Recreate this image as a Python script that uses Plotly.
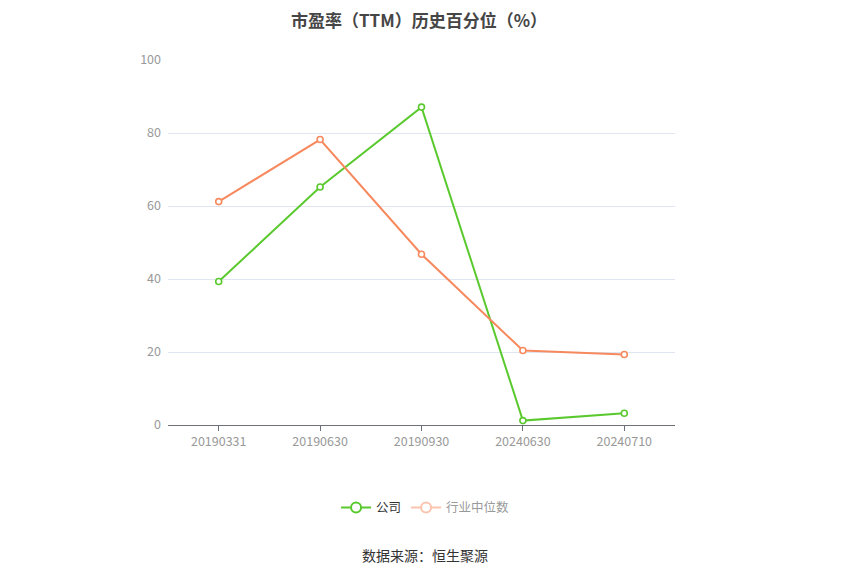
import plotly.graph_objects as go

categories = ["20190331", "20190630", "20190930", "20240630", "20240710"]
company = [39.3, 65.2, 87.1, 1.2, 3.2]
industry = [61.2, 78.2, 46.8, 20.4, 19.3]
y_ticks = [0, 20, 40, 60, 80, 100]

GREEN = "#5ac92e"
ORANGE = "#f7895e"
FONT = "Microsoft YaHei, Noto Sans CJK SC, sans-serif"

fig = go.Figure()
fig.add_trace(go.Scatter(
    x=categories, y=company, mode="lines+markers", name="公司", showlegend=False,
    line=dict(color=GREEN, width=2),
    marker=dict(symbol="circle", size=6, color="white", line=dict(color=GREEN, width=1.6)),
))
fig.add_trace(go.Scatter(
    x=categories, y=industry, mode="lines+markers", name="行业中位数", showlegend=False,
    line=dict(color=ORANGE, width=2),
    marker=dict(symbol="circle", size=6, color="white", line=dict(color=ORANGE, width=1.6)),
))
# legend entries
fig.add_trace(go.Scatter(
    x=[None], y=[None], mode="lines+markers", name="<span style='color:#333'>公司</span>",
    line=dict(color=GREEN, width=2),
    marker=dict(symbol="circle", size=10, color="white", line=dict(color=GREEN, width=2)),
))
fig.add_trace(go.Scatter(
    x=[None], y=[None], mode="lines+markers", name="<span style='color:#999'>行业中位数</span>",
    line=dict(color="#fbc4ae", width=2),
    marker=dict(symbol="circle", size=10, color="white", line=dict(color="#fbc4ae", width=2)),
))

fig.update_layout(
    width=850, height=575,
    margin=dict(l=160, r=183, t=52, b=158),
    paper_bgcolor="white", plot_bgcolor="white",
    font=dict(family=FONT, size=12.5, color="#999"),
    title=dict(text="<b>市盈率（TTM）历史百分位（%）</b>", xref="container", x=411 / 850,
               xanchor="center", yref="container", y=1 - 13 / 575, yanchor="middle",
               font=dict(size=17, color="#464646", family=FONT)),
    showlegend=True,
    legend=dict(orientation="h", x=0.508, xanchor="center", y=-0.227, yanchor="middle",
                font=dict(size=12.5, color="#333"), itemwidth=30, bgcolor="rgba(0,0,0,0)"),
    xaxis=dict(type="category", categoryorder="array", categoryarray=categories,
               range=[-0.5, 4.5], showgrid=False, showline=True, linecolor="#6e7079",
               linewidth=1, ticks="outside", ticklen=5, tickcolor="#6e7079",
               tickfont=dict(size=12.5, color="#999"), zeroline=False, fixedrange=True),
    yaxis=dict(range=[0, 100], tickvals=y_ticks, showgrid=True, gridcolor="#e0e6f1",
               gridwidth=1, showline=False, zeroline=False, ticks="",
               tickfont=dict(size=12.5, color="#999"), ticklabelstandoff=6),
    annotations=[dict(text="数据来源：恒生聚源", x=0.507, xref="paper",
                      y=(575 - 158 - 547) / (575 - 52 - 158), yref="paper", yanchor="middle",
                      showarrow=False, font=dict(size=14, color="#333", family=FONT))],
)

fig.write_html("out.html")
